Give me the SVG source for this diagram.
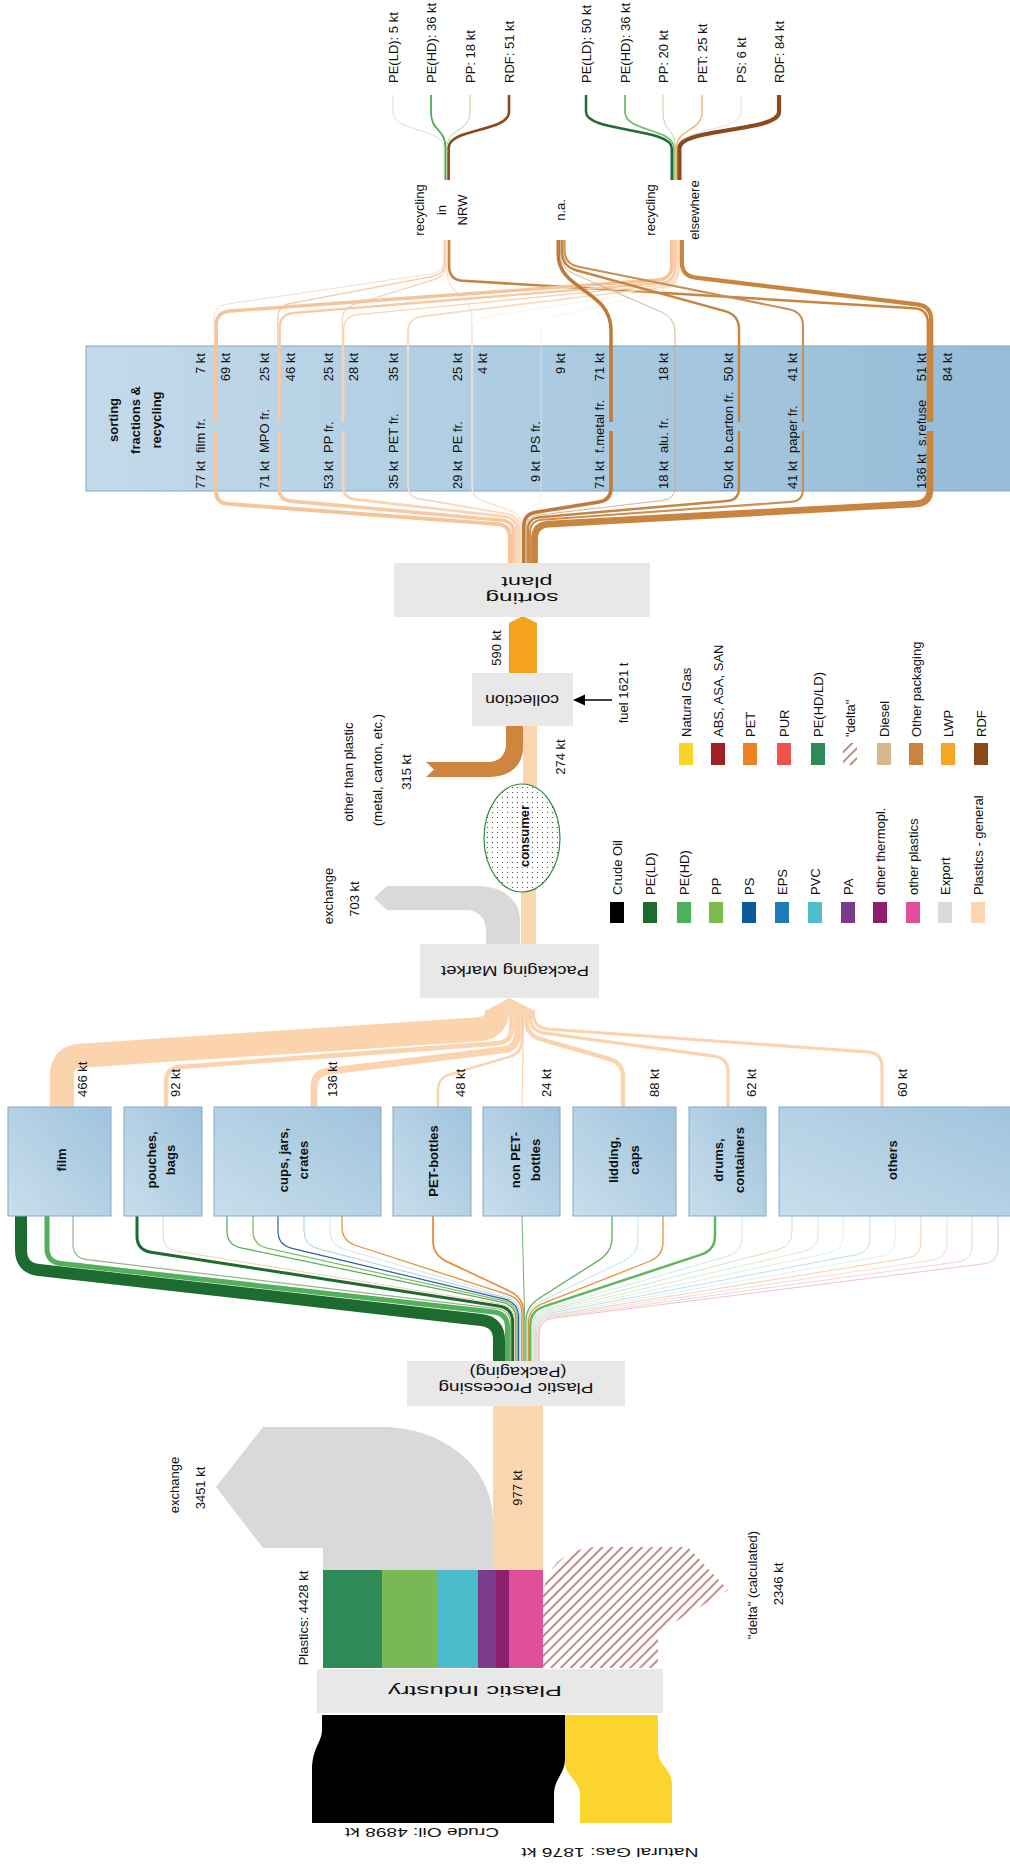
<svg xmlns="http://www.w3.org/2000/svg" width="1010" height="1865" viewBox="0 0 1010 1865">
<defs>
<style>
text{font-family:"Liberation Sans",Arial,sans-serif;font-size:13px;fill:#111}
.b{font-weight:bold}
.up{font-size:15px}
.f{fill:none;stroke-linecap:butt}
.gbox{fill:#e8e8e8}
.pbox{fill:url(#gBox);stroke:#86aac6;stroke-width:1}
.gap{fill:url(#gSort)}
</style>
<linearGradient id="gBox" x1="0" y1="1" x2="1" y2="0"><stop offset="0" stop-color="#c9deec"/><stop offset="1" stop-color="#9fc3dd"/></linearGradient>
<linearGradient id="gSort" gradientUnits="userSpaceOnUse" x1="86" y1="0" x2="1016" y2="0"><stop offset="0" stop-color="#c3daea"/><stop offset="1" stop-color="#95bbd7"/></linearGradient>
<pattern id="hatch" width="7" height="7" patternUnits="userSpaceOnUse" patternTransform="rotate(45)"><line x1="1" y1="0" x2="1" y2="7" stroke="#a34a4a" stroke-width="1.3"/></pattern>
<pattern id="dots" width="5" height="5" patternUnits="userSpaceOnUse"><rect width="5" height="5" fill="#fff"/><circle cx="2.5" cy="2.5" r="0.6" fill="#333"/></pattern>
</defs>
<rect width="1010" height="1865" fill="#fff"/>

<g id="sorting-fractions">
<rect x="86" y="346" width="930" height="145" fill="url(#gSort)" stroke="#7ea8c6"/>
<text class="b" x="113" y="420" transform="rotate(-90 113 420)" text-anchor="middle" dominant-baseline="central">sorting</text>
<text class="b" x="135" y="420" transform="rotate(-90 135 420)" text-anchor="middle" dominant-baseline="central">fractions &amp;</text>
<text class="b" x="156" y="420" transform="rotate(-90 156 420)" text-anchor="middle" dominant-baseline="central">recycling</text>
</g>

<g id="connectors">
<path d="M322 1715 L565 1715 L565 1758 C565 1775 554 1778 554 1795 L554 1823 L312 1823 L312 1770 C312 1748 322 1742 322 1730 Z" fill="#000"/>
<path d="M565 1715 L658 1715 L658 1750 C658 1766 672 1768 672 1785 L672 1823 L580 1823 L580 1795 C580 1780 565 1776 565 1762 Z" fill="#fbd52e"/>
<rect x="323" y="1570" width="59" height="98" fill="#2e8b57"/>
<rect x="382" y="1570" width="55" height="98" fill="#78b955"/>
<rect x="437" y="1570" width="41" height="98" fill="#4bbccc"/>
<rect x="478" y="1570" width="18" height="98" fill="#7b3b8c"/>
<rect x="496" y="1570" width="13" height="98" fill="#8e1f6f"/>
<rect x="509" y="1570" width="34" height="98" fill="#df4f9a"/>
<path d="M543 1668 L543 1600 C543 1568 565 1547 600 1547 L688 1547 L728 1590 L658 1632 L658 1668 Z" fill="url(#hatch)"/>
<path d="M323 1570 L323 1548 L263 1548 L216 1487 L263 1427 L383 1427 C440 1427 493 1465 493 1520 L493 1570 Z" fill="#d9d9d9"/>
<rect x="493" y="1406" width="50" height="164" fill="#fbd6b0"/>

<g class="f">
<path d="M499 1362 L499 1340 Q499 1322 481 1320 L39 1270 Q21 1268 21 1250 L21 1216" stroke="#1e6b30" stroke-width="12"/>
<path d="M507.5 1362 L507.5 1327.5 Q507.5 1313.5 493.5 1311.9 L61 1263.6 Q47 1262 47 1248 L47 1216" stroke="#52b05a" stroke-width="5"/>
<path d="M510.6 1362 L510.6 1324.4 Q510.6 1310.4 496.6 1308.7 L87 1259.7 Q73 1258 73 1244 L73 1216" stroke="#98b48a" stroke-width="1.2"/>
<path d="M512.7 1362 L512.7 1322.3 Q512.7 1308.3 498.7 1306.1 L151 1252.2 Q137 1250 137 1236 L137 1216" stroke="#1e6b30" stroke-width="3"/>
<path d="M514.7 1362 L514.7 1320.3 Q514.7 1306.3 500.7 1304 L177 1251.3 Q163 1249 163 1235 L163 1216" stroke="#f0d0bb" stroke-width="1"/>
<path d="M515.9 1362 L515.9 1319.1 Q515.9 1305.1 501.9 1302.2 L241 1247.9 Q227 1245 227 1231 L227 1216" stroke="#5cb05c" stroke-width="1.3"/>
<path d="M517.2 1362 L517.2 1317.8 Q517.2 1303.8 503.2 1300.7 L267 1248.1 Q253 1245 253 1231 L253 1216" stroke="#86bf5e" stroke-width="1.3"/>
<path d="M518.5 1362 L518.5 1316.5 Q518.5 1302.5 504.5 1299.2 L292 1248.3 Q278 1245 278 1231 L278 1216" stroke="#2b5f9e" stroke-width="1.2"/>
<path d="M519.6 1362 L519.6 1315.4 Q519.6 1301.4 505.6 1297.7 L318 1248.7 Q304 1245 304 1231 L304 1216" stroke="#a8cde6" stroke-width="1"/>
<path d="M520.6 1362 L520.6 1314.4 Q520.6 1300.4 506.6 1296.3 L344 1249.1 Q330 1245 330 1231 L330 1216" stroke="#cfe8ee" stroke-width="1"/>
<path d="M521.8 1362 L521.8 1313.2 Q521.8 1299.2 507.8 1294.7 L356 1245.5 Q342 1241 342 1227 L342 1216" stroke="#e8913a" stroke-width="1.3"/>
<path d="M523.4 1362 L523.4 1311.6 Q523.4 1297.6 509.4 1291 L447 1261.6 Q433 1255 433 1241 L433 1216" stroke="#e8913a" stroke-width="1.8"/>
<path d="M524.8 1362 L524.8 1322 L522 1216" stroke="#6cb46c" stroke-width="1"/>
<path d="M526 1362 L526 1320.7 Q526 1306.7 540 1297.8 L598 1260.9 Q612 1252 612 1238 L612 1216" stroke="#5cb05c" stroke-width="1.3"/>
<path d="M527.2 1362 L527.2 1321.9 Q527.2 1307.9 541.2 1301.1 L624 1260.8 Q638 1254 638 1240 L638 1216" stroke="#bfe3ea" stroke-width="1"/>
<path d="M528.4 1362 L528.4 1323.1 Q528.4 1309.1 542.4 1303.6 L649 1261.5 Q663 1256 663 1242 L663 1216" stroke="#e8913a" stroke-width="1.3"/>
<path d="M530.3 1362 L530.3 1325 Q530.3 1311 544.3 1306.4 L701 1254.6 Q715 1250 715 1236 L715 1216" stroke="#5cb85c" stroke-width="2.5"/>
<path d="M532 1362 L532 1326.7 Q532 1312.7 546 1308.7 L728 1256 Q742 1252 742 1238 L742 1216" stroke="#cde8ee" stroke-width="1"/>
<path d="M532.9 1362 L532.9 1327.6 Q532.9 1313.6 546.9 1310 L778 1249.7 Q792 1246 792 1232 L792 1216" stroke="#c9dcbc" stroke-width="0.8"/>
<path d="M533.7 1362 L533.7 1328.4 Q533.7 1314.4 547.7 1311.1 L804 1251.3 Q818 1248 818 1234 L818 1216" stroke="#d3e6c5" stroke-width="0.8"/>
<path d="M534.5 1362 L534.5 1329.2 Q534.5 1315.2 548.5 1312.2 L829 1253 Q843 1250 843 1236 L843 1216" stroke="#d8e8d8" stroke-width="0.8"/>
<path d="M535.3 1362 L535.3 1330 Q535.3 1316 549.3 1313.3 L856 1254.7 Q870 1252 870 1238 L870 1216" stroke="#a8d8e2" stroke-width="0.8"/>
<path d="M536.1 1362 L536.1 1330.8 Q536.1 1316.8 550.1 1314.4 L881 1256.4 Q895 1254 895 1240 L895 1216" stroke="#d0ecf0" stroke-width="0.8"/>
<path d="M536.9 1362 L536.9 1331.6 Q536.9 1317.6 550.9 1315.4 L907 1258.2 Q921 1256 921 1242 L921 1216" stroke="#f2c39a" stroke-width="0.8"/>
<path d="M537.7 1362 L537.7 1332.4 Q537.7 1318.4 551.7 1316.3 L933 1260.1 Q947 1258 947 1244 L947 1216" stroke="#f0d6c8" stroke-width="0.8"/>
<path d="M538.5 1362 L538.5 1333.2 Q538.5 1319.2 552.5 1317.3 L958 1261.9 Q972 1260 972 1246 L972 1216" stroke="#f3c4d6" stroke-width="0.8"/>
<path d="M539.3 1362 L539.3 1334 Q539.3 1320 553.3 1318.2 L984 1263.8 Q998 1262 998 1248 L998 1216" stroke="#eab1c8" stroke-width="0.8"/>
</g>

<g class="f" stroke="#fbd3ad">
<path d="M62 1107 L62 1075 Q62 1057 80 1055.8 L479 1029.2 Q497 1028 497 1010" stroke-width="24"/>
<path d="M166 1107 L166 1082 Q166 1068 180 1067 L497.3 1043.3 Q511.3 1042.3 511.3 1028.3 L511.3 1010" stroke-width="4.7"/>
<path d="M314 1107 L314 1087 Q314 1073 328 1071.3 L503.1 1049.9 Q517.1 1048.2 517.1 1034.2 L517.1 1010" stroke-width="7"/>
<path d="M438 1107 L438 1090 Q438 1078 450 1074.4 L509.8 1056.6 Q521.8 1053 521.8 1041 L521.8 1010" stroke-width="2.5"/>
<path d="M522 1107 L523.7 1010" stroke-width="1.2"/>
<path d="M623 1107 L623 1077 Q623 1063 609 1058.9 L540.6 1039.1 Q526.6 1035 526.6 1021 L526.6 1010" stroke-width="4.5"/>
<path d="M728 1107 L728 1072 Q728 1058 714 1056.1 L544.4 1033.1 Q530.4 1031.2 530.4 1017.2 L530.4 1010" stroke-width="3.2"/>
<path d="M882 1107 L882 1067 Q882 1053 868 1052 L547.5 1029 Q533.5 1028 533.5 1014 L533.5 1010" stroke-width="3.1"/>
</g>
<polygon points="485,1011 509.5,998 535,1011" fill="#fbd3ad"/>

<path d="M486 944 L486 930 C486 918 478 910 466 910 L387 910 L374 898 L387 886 L478 886 C503 886 520 900 520 920 L520 944 Z" fill="#d9d9d9"/>
<rect x="521" y="880" width="15" height="64" fill="#fbd6b0"/>
<rect x="523" y="726" width="14" height="66" fill="#fbd6b0"/>
<path d="M506 726 L506 744 C506 755 499 762 488 762 L426 762 L434 769.5 L426 777 L490 777 C510 777 523 765 523 748 L523 726 Z" fill="#cd8540"/>
<path d="M509 673 L509 623 L523 616 L537 623 L537 673 Z" fill="#f5a21f"/>
<line x1="612" y1="700" x2="582" y2="700" stroke="#000" stroke-width="1.5"/>
<polygon points="573,700 585,694.5 585,705.5" fill="#000"/>

<g class="f">
<path d="M509.95 563 L509.95 537 Q509.95 525 497.95 524.1 L228 503.9 Q216 503 216 491 L216 346" stroke="#f6c49a" stroke-width="3.9"/>
<path d="M513.7 563 L513.7 533.25 Q513.7 521.25 501.7 520.2 L291 501.1 Q279 500 279 488 L279 346" stroke="#f7c9a2" stroke-width="3.6"/>
<path d="M516.85 563 L516.85 530.1 Q516.85 518.1 504.85 516.7 L355 499.4 Q343 498 343 486 L343 346" stroke="#f9d3b3" stroke-width="2.7"/>
<path d="M519.1 563 L519.1 527.85 Q519.1 515.85 507.1 513.8 L420 499 Q408 497 408 485 L408 346" stroke="#fad9bf" stroke-width="1.8"/>
<path d="M520.75 563 L520.75 524.2 Q520.75 514.2 510.75 510.7 L482 500.5 Q472 497 472 487 L472 346" stroke="#fce2cf" stroke-width="1.5"/>
<path d="M521.75 563 L521.75 520 C521.75 505 541 510 541 494 L541 346" stroke="#fde7d8" stroke-width="0.6"/>
<path d="M523.8 563 L523.8 526.3 Q523.8 514.3 535.8 512.3 L599 502 Q611 500 611 488 L611 346" stroke="#c07a3a" stroke-width="3.6"/>
<path d="M526.05 563 L526.05 528.55 Q526.05 516.55 538.05 515.1 L663 500.4 Q675 499 675 487 L675 346" stroke="#c9ab8c" stroke-width="0.9"/>
<path d="M527.75 563 L527.75 530.25 Q527.75 518.25 539.75 517.2 L727 501 Q739 500 739 488 L739 346" stroke="#c98540" stroke-width="2.5"/>
<path d="M530.05 563 L530.05 532.55 Q530.05 520.55 542.05 519.7 L791 501.9 Q803 501 803 489 L803 346" stroke="#c98f55" stroke-width="2.1"/>
<path d="M534.5 563 L534.5 539 Q534.5 525 548.5 524.2 L916 503.8 Q930 503 930 489 L930 346" stroke="#c98540" stroke-width="6.8"/>
</g>
<g id="line-gaps">
<rect class="gap" x="211" y="422" width="10" height="9"/>
<rect class="gap" x="274" y="422" width="10" height="9"/>
<rect class="gap" x="338" y="422" width="10" height="9"/>
<rect class="gap" x="606" y="422" width="10" height="9"/>
<rect class="gap" x="734" y="422" width="10" height="9"/>
<rect class="gap" x="798" y="422" width="10" height="9"/>
<rect class="gap" x="925" y="422" width="10" height="9"/>
</g>

<g class="f">
<path d="M214.2 346 L214.2 318 Q214.2 306 226.2 304.2 L431.9 273.8 Q443.9 272 443.9 260 L443.9 240" stroke="#f6c49a" stroke-width="0.6"/>
<path d="M277.8 346 L277.8 318 Q277.8 306 289.8 303.7 L432.7 276.3 Q444.7 274 444.7 262 L444.7 240" stroke="#f7c9a2" stroke-width="1.25"/>
<path d="M342.3 346 L342.3 320 Q342.3 308 354.3 304.3 L434 279.7 Q446 276 446 264 L446 240" stroke="#f9d3b3" stroke-width="1.25"/>
<path d="M471.9 346 L471.9 318 C471.9 295 447.2 295 447.2 272 L447.2 240" stroke="#fce2cf" stroke-width="1.25"/>
<path d="M927.9 346 L927.9 323 Q927.9 309 913.9 308.2 L463.1 280.8 Q449.1 280 449.1 266 L449.1 240" stroke="#c98540" stroke-width="2.55"/>
<path d="M216.2 346 L216.2 326 Q216.2 312 230.2 311 L657.8 280 Q671.8 279 671.8 265 L671.8 240" stroke="#f6c49a" stroke-width="3.45"/>
<path d="M279.7 346 L279.7 328 Q279.7 314 293.7 312.9 L660.7 283 Q674.7 281.9 674.7 267.9 L674.7 240" stroke="#f7c9a2" stroke-width="2.3"/>
<path d="M343.6 346 L343.6 330 Q343.6 316 357.6 314.6 L662.5 285.1 Q676.5 283.7 676.5 269.7 L676.5 240" stroke="#f9d3b3" stroke-width="1.4"/>
<path d="M408 346 L408 332 Q408 318 422 316.3 L664.1 287 Q678.1 285.3 678.1 271.3 L678.1 240" stroke="#fad9bf" stroke-width="1.75"/>
<path d="M472.6 346 L472.6 333 Q472.6 319 486.6 316.8 L665.1 288.5 Q679.1 286.3 679.1 272.3 L679.1 240" stroke="#fce2cf" stroke-width="0.5"/>
<path d="M541 346 L541 334 Q541 320 555 316.6 L665.5 290.1 Q679.5 286.7 679.5 272.7 L679.5 240" stroke="#fde7d8" stroke-width="0.5"/>
<path d="M931.2 346 L931.2 320 Q931.2 306 917.2 304.3 L695.8 277.7 Q681.8 276 681.8 262 L681.8 240" stroke="#c98540" stroke-width="4.2"/>
<path d="M611 346 L611 330 C611 290 558.3 290 558.3 255 L558.3 240" stroke="#c07a3a" stroke-width="3.55"/>
<path d="M675 346 L675 332 Q675 318 661 311.9 L574.5 274.1 Q560.5 268 560.5 254 L560.5 240" stroke="#c9ab8c" stroke-width="0.9"/>
<path d="M739 346 L739 329 Q739 315 725 311.1 L576.2 270.2 Q562.2 266.3 562.2 252.3 L562.2 240" stroke="#c98540" stroke-width="2.5"/>
<path d="M803 346 L803 326 Q803 312 789 309.2 L578.5 266.8 Q564.5 264 564.5 250 L564.5 240" stroke="#c98f55" stroke-width="2.05"/>
</g>

<g class="f">
<path d="M444.2 180 V148 C444.2 128 393 132 393 112 V95" stroke="#cdd3c8" stroke-width="0.8"/>
<path d="M445.5 180 V148 C445.5 128 431 132 431 112 V95" stroke="#4fa953" stroke-width="1.8"/>
<path d="M446.9 180 V148 C446.9 128 470 132 470 112 V95" stroke="#9fcd8a" stroke-width="0.9"/>
<path d="M448.6 180 V148 C448.6 128 509 132 509 112 V95" stroke="#8b4a1b" stroke-width="2.6"/>
<path d="M671.75 180 V148 C671.75 128 586 132 586 112 V95" stroke="#236b33" stroke-width="2.5"/>
<path d="M673.9 180 V148 C673.9 128 625 132 625 112 V95" stroke="#6dbf6d" stroke-width="1.8"/>
<path d="M675.3 180 V148 C675.3 128 663 132 663 112 V95" stroke="#b5d7a0" stroke-width="1"/>
<path d="M676.4 180 V148 C676.4 128 702 132 702 112 V95" stroke="#f0ac66" stroke-width="1.25"/>
<path d="M677.2 180 V148 C677.2 128 741 132 741 112 V95" stroke="#d0d0d0" stroke-width="0.6"/>
<path d="M679.4 180 V148 C679.4 128 779 132 779 112 V95" stroke="#8b4a1b" stroke-width="4.2"/>
</g>
</g>

<g id="fraction-labels">
<g text-anchor="start" dominant-baseline="central">
<text x="200" y="489" transform="rotate(-90 200 489)">77 kt</text>
<text x="264" y="489" transform="rotate(-90 264 489)">71 kt</text>
<text x="328" y="489" transform="rotate(-90 328 489)">53 kt</text>
<text x="393" y="489" transform="rotate(-90 393 489)">35 kt</text>
<text x="457" y="489" transform="rotate(-90 457 489)">29 kt</text>
<text x="535" y="482" transform="rotate(-90 535 482)">9 kt</text>
<text x="599" y="489" transform="rotate(-90 599 489)">71 kt</text>
<text x="663" y="489" transform="rotate(-90 663 489)">18 kt</text>
<text x="728" y="489" transform="rotate(-90 728 489)">50 kt</text>
<text x="792" y="489" transform="rotate(-90 792 489)">41 kt</text>
<text x="921" y="489" transform="rotate(-90 921 489)">136 kt</text>
<text x="200" y="453" transform="rotate(-90 200 453)">film fr.</text>
<text x="264" y="453" transform="rotate(-90 264 453)">MPO fr.</text>
<text x="328" y="453" transform="rotate(-90 328 453)">PP fr.</text>
<text x="393" y="453" transform="rotate(-90 393 453)">PET fr.</text>
<text x="457" y="453" transform="rotate(-90 457 453)">PE fr.</text>
<text x="535" y="453" transform="rotate(-90 535 453)">PS fr.</text>
<text x="599" y="453" transform="rotate(-90 599 453)">f.metal fr.</text>
<text x="663" y="453" transform="rotate(-90 663 453)">alu. fr.</text>
<text x="728" y="453" transform="rotate(-90 728 453)">b.carton fr.</text>
<text x="792" y="453" transform="rotate(-90 792 453)">paper fr.</text>
<text x="921" y="446" transform="rotate(-90 921 446)">s.refuse</text>
</g>
<g text-anchor="end" dominant-baseline="central">
<text x="200" y="353" transform="rotate(-90 200 353)">7 kt</text>
<text x="225" y="353" transform="rotate(-90 225 353)">69 kt</text>
<text x="264" y="353" transform="rotate(-90 264 353)">25 kt</text>
<text x="290" y="353" transform="rotate(-90 290 353)">46 kt</text>
<text x="328" y="353" transform="rotate(-90 328 353)">25 kt</text>
<text x="353" y="353" transform="rotate(-90 353 353)">28 kt</text>
<text x="393" y="353" transform="rotate(-90 393 353)">35 kt</text>
<text x="457" y="353" transform="rotate(-90 457 353)">25 kt</text>
<text x="482" y="353" transform="rotate(-90 482 353)">4 kt</text>
<text x="560" y="353" transform="rotate(-90 560 353)">9 kt</text>
<text x="599" y="353" transform="rotate(-90 599 353)">71 kt</text>
<text x="663" y="353" transform="rotate(-90 663 353)">18 kt</text>
<text x="728" y="353" transform="rotate(-90 728 353)">50 kt</text>
<text x="792" y="353" transform="rotate(-90 792 353)">41 kt</text>
<text x="921" y="353" transform="rotate(-90 921 353)">51 kt</text>
<text x="947" y="353" transform="rotate(-90 947 353)">84 kt</text>
</g>
</g>

<g id="recycling-nrw" text-anchor="middle" dominant-baseline="central">
<text x="419" y="210" transform="rotate(-90 419 210)">recycling</text>
<text x="441" y="210" transform="rotate(-90 441 210)">in</text>
<text x="462" y="210" transform="rotate(-90 462 210)">NRW</text>
</g>
<g id="not-available" text-anchor="middle" dominant-baseline="central">
<text x="560" y="210" transform="rotate(-90 560 210)">n.a.</text>
</g>
<g id="recycling-elsewhere" text-anchor="middle" dominant-baseline="central">
<text x="650" y="210" transform="rotate(-90 650 210)">recycling</text>
<text x="694" y="210" transform="rotate(-90 694 210)">elsewhere</text>
</g>
<g id="outputs" text-anchor="start" dominant-baseline="central">
<text x="393" y="83" transform="rotate(-90 393 83)">PE(LD): 5 kt</text>
<text x="431" y="83" transform="rotate(-90 431 83)">PE(HD): 36 kt</text>
<text x="470" y="83" transform="rotate(-90 470 83)">PP: 18 kt</text>
<text x="509" y="83" transform="rotate(-90 509 83)">RDF: 51 kt</text>
<text x="586" y="83" transform="rotate(-90 586 83)">PE(LD): 50 kt</text>
<text x="625" y="83" transform="rotate(-90 625 83)">PE(HD): 36 kt</text>
<text x="663" y="83" transform="rotate(-90 663 83)">PP: 20 kt</text>
<text x="702" y="83" transform="rotate(-90 702 83)">PET: 25 kt</text>
<text x="741" y="83" transform="rotate(-90 741 83)">PS: 6 kt</text>
<text x="779" y="83" transform="rotate(-90 779 83)">RDF: 84 kt</text>
</g>

<g id="sorting-plant">
<rect class="gbox" x="394" y="563" width="256" height="54"/>
<text class="up" x="527" y="582" transform="rotate(180 527 582)" text-anchor="middle" dominant-baseline="central" textLength="51" lengthAdjust="spacingAndGlyphs">plant</text>
<text class="up" x="522" y="598" transform="rotate(180 522 598)" text-anchor="middle" dominant-baseline="central" textLength="73" lengthAdjust="spacingAndGlyphs">sorting</text>
</g>
<g id="collection">
<rect class="gbox" x="472" y="673" width="101" height="53"/>
<text class="up" x="522" y="700" transform="rotate(180 522 700)" text-anchor="middle" dominant-baseline="central" textLength="74" lengthAdjust="spacingAndGlyphs">collection</text>
</g>
<g id="flow-labels-mid" dominant-baseline="central" text-anchor="middle">
<text x="496" y="648" transform="rotate(-90 496 648)">590 kt</text>
<text x="623" y="693" transform="rotate(-90 623 693)">fuel 1621 t</text>
<text x="560" y="757" transform="rotate(-90 560 757)">274 kt</text>
<text x="348" y="772" transform="rotate(-90 348 772)">other than plastic</text>
<text x="377" y="770" transform="rotate(-90 377 770)">(metal, carton, etc.)</text>
<text x="406" y="772" transform="rotate(-90 406 772)">315 kt</text>
<text x="328" y="896" transform="rotate(-90 328 896)">exchange</text>
<text x="354" y="899" transform="rotate(-90 354 899)">703 kt</text>
</g>
<g id="consumer">
<ellipse cx="522" cy="838" rx="38" ry="54" fill="url(#dots)" stroke="#2d8a3e" stroke-width="1.2"/>
<text class="b" x="524" y="836" transform="rotate(-90 524 836)" text-anchor="middle" dominant-baseline="central">consumer</text>
</g>
<g id="packaging-market">
<rect class="gbox" x="420" y="944" width="179" height="54"/>
<text class="up" x="515" y="971" transform="rotate(180 515 971)" text-anchor="middle" dominant-baseline="central" textLength="148" lengthAdjust="spacingAndGlyphs">Packaging Market</text>
</g>

<g id="legend">
<rect x="610" y="902" width="14" height="21" fill="#000"/>
<rect x="643" y="902" width="14" height="21" fill="#1e6b30"/>
<rect x="677" y="902" width="14" height="21" fill="#4db05a"/>
<rect x="709" y="902" width="14" height="21" fill="#7dbb4e"/>
<rect x="742" y="902" width="14" height="21" fill="#0d5a9a"/>
<rect x="775" y="902" width="14" height="21" fill="#1f7ab8"/>
<rect x="808" y="902" width="14" height="21" fill="#4bbfcc"/>
<rect x="841" y="902" width="14" height="21" fill="#7a3b8c"/>
<rect x="873" y="902" width="14" height="21" fill="#8e1f6f"/>
<rect x="906" y="902" width="14" height="21" fill="#df4f9a"/>
<rect x="938" y="902" width="14" height="21" fill="#dadada"/>
<rect x="971" y="902" width="14" height="21" fill="#fcd6b0"/>
<g text-anchor="start" dominant-baseline="central">
<text x="617" y="895" transform="rotate(-90 617 895)">Crude Oil</text>
<text x="650" y="895" transform="rotate(-90 650 895)">PE(LD)</text>
<text x="684" y="895" transform="rotate(-90 684 895)">PE(HD)</text>
<text x="716" y="895" transform="rotate(-90 716 895)">PP</text>
<text x="749" y="895" transform="rotate(-90 749 895)">PS</text>
<text x="782" y="895" transform="rotate(-90 782 895)">EPS</text>
<text x="815" y="895" transform="rotate(-90 815 895)">PVC</text>
<text x="848" y="895" transform="rotate(-90 848 895)">PA</text>
<text x="880" y="895" transform="rotate(-90 880 895)">other thermopl.</text>
<text x="913" y="895" transform="rotate(-90 913 895)">other plastics</text>
<text x="945" y="895" transform="rotate(-90 945 895)">Export</text>
<text x="978" y="895" transform="rotate(-90 978 895)">Plastics - general</text>
</g>
<rect x="679" y="743" width="14" height="22" fill="#f9d42a"/>
<rect x="711" y="743" width="14" height="22" fill="#a11f22"/>
<rect x="743" y="743" width="14" height="22" fill="#ee8221"/>
<rect x="777" y="743" width="14" height="22" fill="#ef5350"/>
<rect x="811" y="743" width="14" height="22" fill="#2e8b57"/>
<rect x="843" y="743" width="14" height="22" fill="url(#hatch)"/>
<rect x="877" y="743" width="14" height="22" fill="#d8b88f"/>
<rect x="909" y="743" width="14" height="22" fill="#c98540"/>
<rect x="941" y="743" width="14" height="22" fill="#f5a623"/>
<rect x="974" y="743" width="14" height="22" fill="#8b4a1b"/>
<g text-anchor="start" dominant-baseline="central">
<text x="686" y="737" transform="rotate(-90 686 737)">Natural Gas</text>
<text x="718" y="737" transform="rotate(-90 718 737)">ABS, ASA, SAN</text>
<text x="750" y="737" transform="rotate(-90 750 737)">PET</text>
<text x="784" y="737" transform="rotate(-90 784 737)">PUR</text>
<text x="818" y="737" transform="rotate(-90 818 737)">PE(HD/LD)</text>
<text x="850" y="737" transform="rotate(-90 850 737)">"delta"</text>
<text x="884" y="737" transform="rotate(-90 884 737)">Diesel</text>
<text x="916" y="737" transform="rotate(-90 916 737)">Other packaging</text>
<text x="948" y="737" transform="rotate(-90 948 737)">LWP</text>
<text x="981" y="737" transform="rotate(-90 981 737)">RDF</text>
</g>
</g>

<g id="film"><rect class="pbox" x="8" y="1107" width="103" height="109"/>
<text class="b" x="61" y="1160" font-size="14" transform="rotate(-90 61 1160)" text-anchor="middle" dominant-baseline="central">film</text></g>
<g id="pouches-bags"><rect class="pbox" x="124" y="1107" width="78" height="109"/>
<text class="b" x="151" y="1160" font-size="14" transform="rotate(-90 151 1160)" text-anchor="middle" dominant-baseline="central">pouches,</text>
<text class="b" x="170" y="1160" font-size="14" transform="rotate(-90 170 1160)" text-anchor="middle" dominant-baseline="central">bags</text></g>
<g id="cups-jars-crates"><rect class="pbox" x="214" y="1107" width="167" height="109"/>
<text class="b" x="283" y="1160" font-size="14" transform="rotate(-90 283 1160)" text-anchor="middle" dominant-baseline="central">cups, jars,</text>
<text class="b" x="303" y="1160" font-size="14" transform="rotate(-90 303 1160)" text-anchor="middle" dominant-baseline="central">crates</text></g>
<g id="pet-bottles"><rect class="pbox" x="393" y="1107" width="78" height="109"/>
<text class="b" x="433" y="1161" font-size="14" transform="rotate(-90 433 1161)" text-anchor="middle" dominant-baseline="central">PET-bottles</text></g>
<g id="non-pet-bottles"><rect class="pbox" x="483" y="1107" width="77" height="109"/>
<text class="b" x="515" y="1160" font-size="14" transform="rotate(-90 515 1160)" text-anchor="middle" dominant-baseline="central">non PET-</text>
<text class="b" x="535" y="1160" font-size="14" transform="rotate(-90 535 1160)" text-anchor="middle" dominant-baseline="central">bottles</text></g>
<g id="lidding-caps"><rect class="pbox" x="573" y="1107" width="103" height="109"/>
<text class="b" x="613" y="1160" font-size="14" transform="rotate(-90 613 1160)" text-anchor="middle" dominant-baseline="central">lidding,</text>
<text class="b" x="634" y="1160" font-size="14" transform="rotate(-90 634 1160)" text-anchor="middle" dominant-baseline="central">caps</text></g>
<g id="drums-containers"><rect class="pbox" x="689" y="1107" width="77" height="109"/>
<text class="b" x="718" y="1160" font-size="14" transform="rotate(-90 718 1160)" text-anchor="middle" dominant-baseline="central">drums,</text>
<text class="b" x="739" y="1160" font-size="14" transform="rotate(-90 739 1160)" text-anchor="middle" dominant-baseline="central">containers</text></g>
<g id="others"><rect class="pbox" x="779" y="1107" width="240" height="109"/>
<text class="b" x="892" y="1160" font-size="14" transform="rotate(-90 892 1160)" text-anchor="middle" dominant-baseline="central">others</text></g>

<g id="product-flow-labels" text-anchor="start" dominant-baseline="central">
<text x="82" y="1097" transform="rotate(-90 82 1097)">466 kt</text>
<text x="175" y="1097" transform="rotate(-90 175 1097)">92 kt</text>
<text x="332" y="1097" transform="rotate(-90 332 1097)">136 kt</text>
<text x="460" y="1097" transform="rotate(-90 460 1097)">48 kt</text>
<text x="546" y="1097" transform="rotate(-90 546 1097)">24 kt</text>
<text x="654" y="1097" transform="rotate(-90 654 1097)">88 kt</text>
<text x="751" y="1097" transform="rotate(-90 751 1097)">62 kt</text>
<text x="902" y="1097" transform="rotate(-90 902 1097)">60 kt</text>
</g>

<g id="plastic-processing">
<rect class="gbox" x="407" y="1361" width="218" height="45"/>
<text class="up" x="518" y="1372" transform="rotate(180 518 1372)" text-anchor="middle" dominant-baseline="central" textLength="97" lengthAdjust="spacingAndGlyphs">(Packaging)</text>
<text class="up" x="516" y="1388" transform="rotate(180 516 1388)" text-anchor="middle" dominant-baseline="central" textLength="155" lengthAdjust="spacingAndGlyphs">Plastic Processing</text>
</g>
<g id="bottom-labels" dominant-baseline="central" text-anchor="middle">
<text x="517" y="1488" transform="rotate(-90 517 1488)">977 kt</text>
<text x="174" y="1485" transform="rotate(-90 174 1485)">exchange</text>
<text x="200" y="1488" transform="rotate(-90 200 1488)">3451 kt</text>
<text x="303" y="1618" transform="rotate(-90 303 1618)">Plastics: 4428 kt</text>
<text x="752" y="1585" transform="rotate(-90 752 1585)">"delta" (calculated)</text>
<text x="778" y="1584" transform="rotate(-90 778 1584)">2346 kt</text>
</g>
<g id="plastic-industry">
<rect class="gbox" x="317" y="1669" width="346" height="44"/>
<text class="up" x="475" y="1691" transform="rotate(180 475 1691)" text-anchor="middle" dominant-baseline="central" textLength="174" lengthAdjust="spacingAndGlyphs">Plastic Industry</text>
</g>
<g id="sources" dominant-baseline="central" text-anchor="middle">
<text x="422" y="1832" transform="rotate(180 422 1832)" textLength="154" lengthAdjust="spacingAndGlyphs">Crude Oil: 4898 kt</text>
<text x="610" y="1852" transform="rotate(180 610 1852)" textLength="177" lengthAdjust="spacingAndGlyphs">Natural Gas: 1876 kt</text>
</g>
</svg>
